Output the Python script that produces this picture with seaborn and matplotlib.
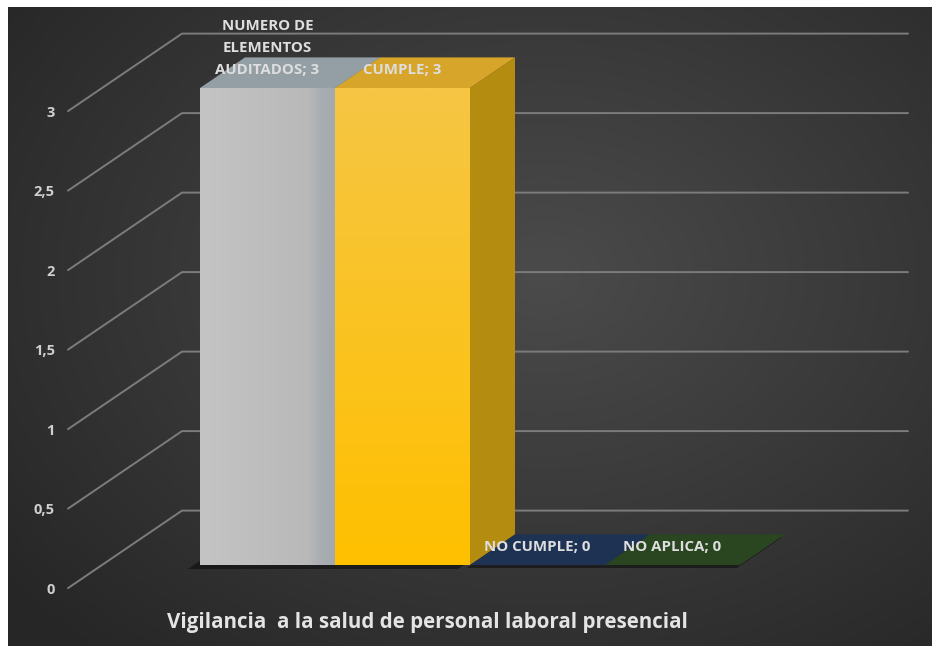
import matplotlib
matplotlib.use("Agg")
import matplotlib.pyplot as plt
import numpy as np
import pandas as pd
import seaborn as sns
from matplotlib.colors import LinearSegmentedColormap, to_rgb
from matplotlib.lines import Line2D
from matplotlib.patches import Polygon
from matplotlib.transforms import Affine2D, IdentityTransform

# data
categoria = ["Vigilancia  a la salud de personal laboral presencial"]
series = ["NUMERO DE ELEMENTOS AUDITADOS", "CUMPLE", "NO CUMPLE", "NO APLICA"]
etiquetas = ["NUMERO DE\nELEMENTOS\nAUDITADOS", "CUMPLE", "NO CUMPLE", "NO APLICA"]
valores = [3, 3, 0, 0]
yticks = [0, 0.5, 1, 1.5, 2, 2.5, 3]

# face colours: front / top / side
colores_frente = ["#bdbdbd", "#ffc000", "#1f3357", "#2b4722"]
colores_techo = ["#939ea5", "#d6a52a", "#1e3254", "#2a4621"]
colores_lado = ["#8f9498", "#b48c10", "#162640", "#1e3318"]

# layout in pixels (figure is 932x646 at dpi 100)
W, H = 932, 646
AX_L, AX_R = 102, 828          # left wall / right end, at bar-front depth
AX_T, AX_B = 88, 565           # value 3 / value 0, at bar-front depth
CLUSTER_L, CLUSTER_R = 200, 740
SLOPE = 0.68                   # oblique depth direction (dy/dx)
D_FRONT, D_BAR, D_WALL = -34, 45, 80

sns.set_theme(style="white")
plt.rcParams["font.family"] = ["Open Sans", "DejaVu Sans"]

fig = plt.figure(figsize=(W / 100, H / 100), dpi=100)
fig.patch.set_facecolor("white")

# dark radial background
bg = fig.add_axes([8 / W, 0, 1 - 8 / W, 1 - 7 / H])
yy, xx = np.mgrid[0:1:300j, 0:1:400j]
r = np.sqrt(((xx - 0.58) / 0.75) ** 2 + ((yy - 0.42) / 0.8) ** 2)
cmap_bg = LinearSegmentedColormap.from_list("bg", ["#262626", "#4b4b4b"])
bg.imshow(np.clip(1 - r, 0, 1), cmap=cmap_bg, extent=[0, 1, 0, 1], aspect="auto", vmin=0, vmax=1)
bg.set_axis_off()

ax = fig.add_axes([AX_L / W, (H - AX_B) / H, (AX_R - AX_L) / W, (AX_B - AX_T) / H])
df = pd.DataFrame({"categoria": categoria * len(series), "serie": series, "valor": valores})
sns.barplot(data=df, x="categoria", y="valor", hue="serie", hue_order=series,
            palette=colores_frente, width=1.0, saturation=1, errorbar=None,
            legend=False, ax=ax)

ppu = CLUSTER_R - CLUSTER_L
xl = -0.5 - (CLUSTER_L - AX_L) / ppu
xr = 0.5 + (AX_R - CLUSTER_R) / ppu
ax.set_xlim(xl, xr)
ax.set_ylim(0, 3)
ax.set_facecolor("none")
for s in ax.spines.values():
    s.set_visible(False)
ax.set_xlabel("")
ax.set_ylabel("")


def proj(x, y, d):
    px, py = ax.transData.transform((x, y))
    return (px + d, py + d * SLOPE)


def face(pts, color, z, **kw):
    ax.add_patch(Polygon(pts, closed=True, facecolor=color, edgecolor="none",
                         transform=IdentityTransform(), zorder=z, clip_on=False, **kw))


# perspective gridlines: front diagonal + back wall
for v in yticks:
    f, b, e = proj(xl, v, D_FRONT), proj(xl, v, D_WALL), proj(xr, v, D_WALL)
    ax.add_line(Line2D([f[0], b[0], e[0]], [f[1], b[1], e[1]], color="#7c7c7c",
                       lw=1.4, transform=IdentityTransform(), zorder=1, clip_on=False))

# axis labels, shifted onto the front plane
shift = Affine2D().translate(D_FRONT, D_FRONT * SLOPE)
ax.set_yticks(yticks, labels=[f"{v:g}".replace(".", ",") for v in yticks])
ax.tick_params(axis="y", length=0, pad=9.5, labelsize=10.5, labelcolor="#cfcfcf")
ax.tick_params(axis="x", length=0, pad=17, labelsize=14.8, labelcolor="#e4e4e4")
for lab in ax.get_yticklabels():
    lab.set_fontweight("bold")
    lab.set_transform(lab.get_transform() + shift)
for lab in ax.get_xticklabels():
    lab.set_fontweight("bold")
    lab.set_transform(lab.get_transform() + shift + Affine2D().translate(-9, 0))


def vgrad(c_top, c_bot, n=64):
    a, b = np.array(to_rgb(c_top)), np.array(to_rgb(c_bot))
    t = np.linspace(0, 1, n)[:, None]
    return (a * (1 - t) + b * t)[:, None, :]


def hgrad(stops, n=64):
    t = np.linspace(0, 1, n)
    pos = [p for p, _ in stops]
    cols = np.array([to_rgb(c) for _, c in stops])
    rgb = np.stack([np.interp(t, pos, cols[:, k]) for k in range(3)], axis=1)
    return rgb[None, :, :]


gradientes = [
    hgrad([(0, "#c4c4c4"), (0.8, "#b9b9b9"), (0.9, "#a9aeb2"), (1, "#a3a9ae")]),
    vgrad("#f6c644", "#ffc000"),
]

for i, cont in enumerate(ax.containers):
    bar = cont[0]
    x0, w, h = bar.get_x(), bar.get_width(), bar.get_height()
    x1 = x0 + w
    z = 3 + i * 0.1
    bar.set_zorder(z)
    bar.set_linewidth(0)
    top = [proj(x0, h, 0), proj(x1, h, 0), proj(x1, h, D_BAR), proj(x0, h, D_BAR)]
    if h > 0:
        # soft floor shadow
        foot = [proj(x0, 0, 0), proj(x1, 0, 0), proj(x1, 0, D_BAR), proj(x0, 0, D_BAR)]
        face([(px - 12, py - 4) for px, py in foot], "black", 2.5, alpha=0.45)
        side = [proj(x1, 0, 0), proj(x1, 0, D_BAR), proj(x1, h, D_BAR), proj(x1, h, 0)]
        face(side, colores_lado[i], z)
        face(top, colores_techo[i], z)
        if i < len(gradientes):
            ax.imshow(gradientes[i], extent=(x0, x1, 0, h), aspect="auto",
                      zorder=z + 0.01, interpolation="bilinear")
    else:
        face([(px - 3, py - 3) for px, py in top], "#141414", 2.6, alpha=0.7)
        face(top, colores_techo[i], z)
    ax.bar_label(cont, labels=[f"{etiquetas[i]}; {valores[i]}"], padding=8,
                 color="#dedede", fontsize=10.8, fontweight="bold", linespacing=1.7,
                 zorder=6)

ax.set_xlim(xl, xr)
ax.set_ylim(0, 3)

fig.savefig("out.png", dpi=100)
